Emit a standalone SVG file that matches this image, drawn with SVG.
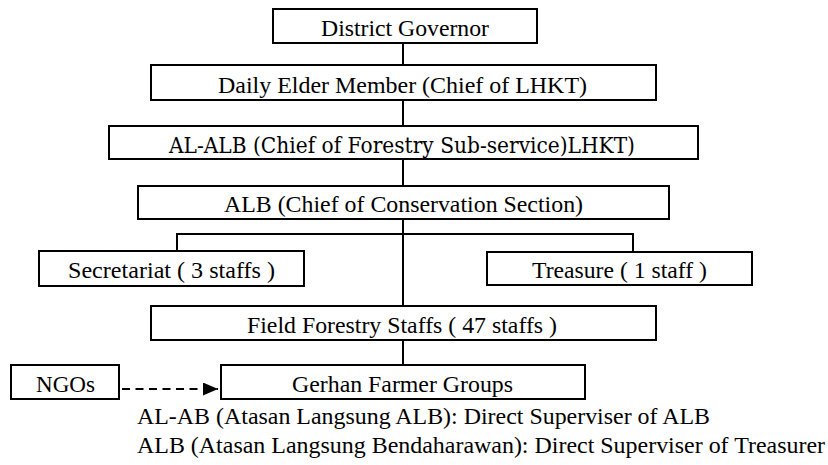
<svg xmlns="http://www.w3.org/2000/svg" width="828" height="465" viewBox="0 0 828 465">
  <style>
    .box { fill: #ffffff; stroke: #000000; stroke-width: 2; }
    .lbl { font-size: 23px; fill: #000000; }
    .link { fill: none; stroke: #000000; stroke-width: 2; }
    .dash { fill: none; stroke: #000000; stroke-width: 2; stroke-dasharray: 8 5.5; }
  </style>
  <defs>
    <marker id="arrow" viewBox="0 0 15 13" refX="15" refY="6.5" markerWidth="15" markerHeight="13" markerUnits="userSpaceOnUse" orient="auto">
      <path d="M0,0 L15,6.5 L0,13 Z" fill="#000000"/>
    </marker>
  </defs>
  <rect width="828" height="465" fill="#ffffff"/>

  <!-- connectors -->
  <g id="connectors">
    <line class="link" x1="403" y1="43" x2="403" y2="65"/>
    <line class="link" x1="403" y1="100" x2="403" y2="126"/>
    <line class="link" x1="403" y1="159" x2="403" y2="186"/>
    <line class="link" x1="403" y1="219" x2="403" y2="306"/>
    <polyline class="link" points="177,251 177,234 633,234 633,252"/>
    <line class="link" x1="403" y1="340" x2="403" y2="365"/>
    <line class="dash" x1="122" y1="389" x2="218" y2="389" marker-end="url(#arrow)"/>
  </g>

  <g id="district-governor">
    <rect class="box" x="273" y="9" width="264" height="34"/>
    <text class="lbl" font-family="Liberation Serif" x="321" y="36" textLength="168" lengthAdjust="spacingAndGlyphs">District Governor</text>
  </g>
  <g id="daily-elder">
    <rect class="box" x="151" y="65" width="505" height="35"/>
    <text class="lbl" font-family="Times New Roman" x="218" y="93" textLength="369" lengthAdjust="spacingAndGlyphs">Daily Elder Member (Chief of LHKT)</text>
  </g>
  <g id="al-alb">
    <rect class="box" x="109" y="126" width="589" height="33"/>
    <text class="lbl" font-family="DejaVu Serif" x="169" y="153" textLength="466" lengthAdjust="spacingAndGlyphs">AL-ALB (Chief of Forestry Sub-service)LHKT)</text>
  </g>
  <g id="alb">
    <rect class="box" x="138" y="186" width="531" height="33"/>
    <text class="lbl" font-family="serif" x="224" y="212" textLength="359" lengthAdjust="spacingAndGlyphs">ALB (Chief of Conservation Section)</text>
  </g>
  <g id="secretariat">
    <rect class="box" x="39" y="251" width="265" height="35"/>
    <text class="lbl" font-family="Liberation Serif" x="68" y="278" textLength="207" lengthAdjust="spacingAndGlyphs">Secretariat ( 3 staffs )</text>
  </g>
  <g id="treasure">
    <rect class="box" x="487" y="252" width="265" height="33"/>
    <text class="lbl" font-family="Times New Roman" x="532" y="278" textLength="175" lengthAdjust="spacingAndGlyphs">Treasure ( 1 staff )</text>
  </g>
  <g id="field-forestry">
    <rect class="box" x="151" y="306" width="505" height="34"/>
    <text class="lbl" font-family="serif" x="247" y="333" textLength="310" lengthAdjust="spacingAndGlyphs">Field Forestry Staffs ( 47 staffs )</text>
  </g>
  <g id="ngos">
    <rect class="box" x="11" y="365" width="108" height="34"/>
    <text class="lbl" font-family="Liberation Serif" x="36" y="392" textLength="59" lengthAdjust="spacingAndGlyphs">NGOs</text>
  </g>
  <g id="gerhan">
    <rect class="box" x="221" y="365" width="364" height="34"/>
    <text class="lbl" font-family="Times New Roman" x="292" y="392" textLength="221" lengthAdjust="spacingAndGlyphs">Gerhan Farmer Groups</text>
  </g>

  <!-- abbreviations -->
  <g id="legend">
    <text class="lbl" font-family="serif" x="137" y="424" textLength="573" lengthAdjust="spacingAndGlyphs">AL-AB (Atasan Langsung ALB): Direct Superviser of ALB</text>
    <text class="lbl" font-family="Liberation Serif" x="137" y="453" textLength="688" lengthAdjust="spacingAndGlyphs">ALB (Atasan Langsung Bendaharawan): Direct Superviser of Treasurer</text>
  </g>
</svg>
